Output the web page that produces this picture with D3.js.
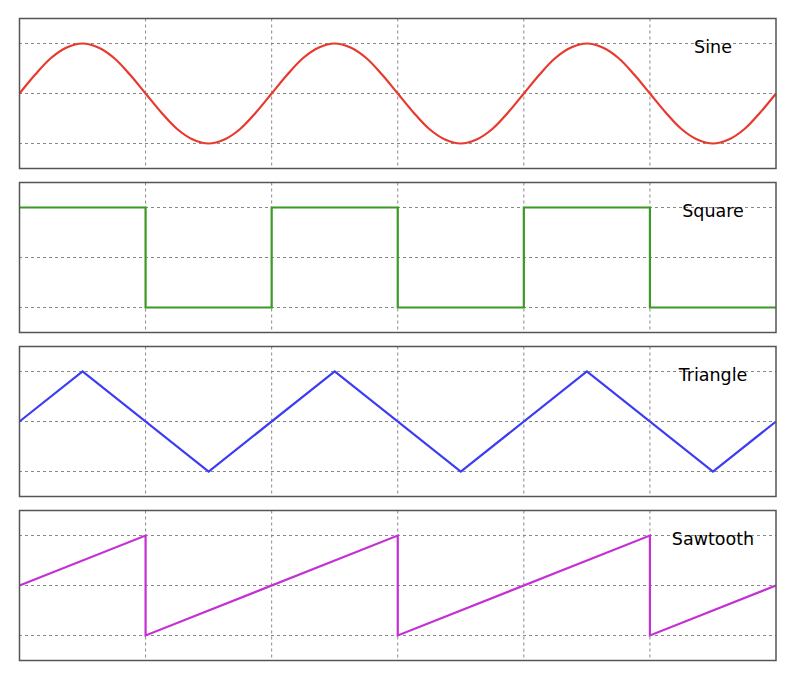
<!DOCTYPE html>
<html><head><meta charset="utf-8">
<script src="https://cdn.jsdelivr.net/npm/d3@7"></script>
<style>body{margin:0;background:#fff}</style>
</head><body>
<script>
// waveform vertices, x in periods, y in amplitude
var sineX = [0,0.0625,0.125,0.1875,0.25,0.3125,0.375,0.4375,0.5,0.5625,0.625,0.6875,0.75,0.8125,0.875,0.9375,1,
             1.0625,1.125,1.1875,1.25,1.3125,1.375,1.4375,1.5,1.5625,1.625,1.6875,1.75,1.8125,1.875,1.9375,2,
             2.0625,2.125,2.1875,2.25,2.3125,2.375,2.4375,2.5,2.5625,2.625,2.6875,2.75,2.8125,2.875,2.9375,3];
var sineY = [0,0.38,0.71,0.92,1,0.92,0.71,0.38,0,-0.38,-0.71,-0.92,-1,-0.92,-0.71,-0.38,0,
             0.38,0.71,0.92,1,0.92,0.71,0.38,0,-0.38,-0.71,-0.92,-1,-0.92,-0.71,-0.38,0,
             0.38,0.71,0.92,1,0.92,0.71,0.38,0,-0.38,-0.71,-0.92,-1,-0.92,-0.71,-0.38,0];
var squareX = [0,0.5,0.5,1,1,1.5,1.5,2,2,2.5,2.5,3];
var squareY = [1,1,-1,-1,1,1,-1,-1,1,1,-1,-1];
var triX = [0,0.25,0.75,1.25,1.75,2.25,2.75,3];
var triY = [0,1,-1,1,-1,1,-1,0];
var sawX = [0,0.5,0.5,1.5,1.5,2.5,2.5,3];
var sawY = [0,1,-1,1,-1,1,-1,0];
var names = ["Sine","Square","Triangle","Sawtooth"];
var colors = ["#e8392f","#3b9a27","#3c3cf2","#c431d3"];
var gridX = [0.5,1,1.5,2,2.5];
var gridY = [-1,0,1];

var panels = [[sineX,sineY],[squareX,squareY],[triX,triY],[sawX,sawY]];
var svg = d3.select("body").append("svg").attr("width",788).attr("height",688);
var x = d3.scaleLinear().domain([0,3]).range([19.5,776]);
var y = d3.scaleLinear().domain([-1.5,1.5]).range([150,0]);

panels.forEach(function(p,i){
  var g = svg.append("g").attr("transform","translate(0,"+(18.5+i*164)+")");
  g.selectAll(".gx").data(gridX).enter().append("line")
    .attr("x1",x).attr("x2",x).attr("y1",0).attr("y2",150)
    .attr("stroke","#888").attr("stroke-dasharray","3,3");
  g.selectAll(".gy").data(gridY).enter().append("line")
    .attr("x1",19).attr("x2",776).attr("y1",y).attr("y2",y)
    .attr("stroke","#888").attr("stroke-dasharray","3,3");
  var pts = p[0].map(function(v,j){return [v,p[1][j]];});
  var line = d3.line().x(function(d){return x(d[0]);}).y(function(d){return y(d[1]);});
  if (i==0) line.curve(d3.curveCatmullRom);
  g.append("path").attr("d",line(pts)).attr("fill","none")
    .attr("stroke",colors[i]).attr("stroke-width",2.2);
  g.append("rect").attr("x",19.5).attr("y",0).attr("width",756.5).attr("height",150)
    .attr("fill","none").attr("stroke","#555").attr("stroke-width",1.5);
  g.append("text").attr("x",713).attr("y",34).attr("text-anchor","middle")
    .attr("font-family","DejaVu Sans").attr("font-size",17.5).text(names[i]);
});
</script>
</body></html>
